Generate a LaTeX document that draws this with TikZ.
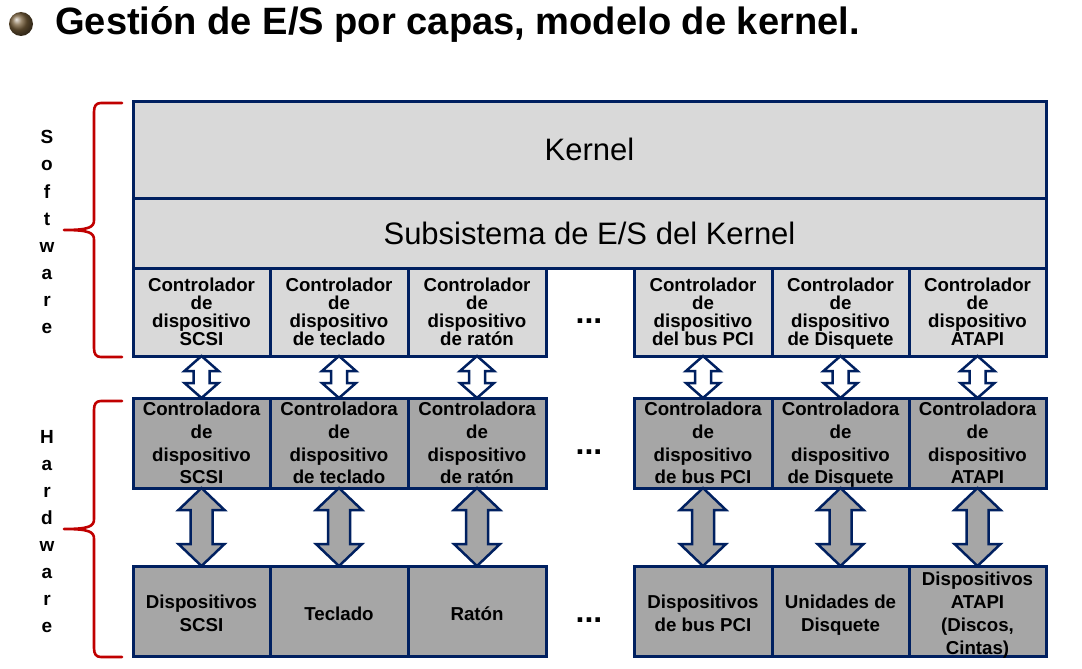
\documentclass[tikz,border=0pt]{standalone}
\usepackage{fontspec}
\setmainfont{Liberation Sans}
\usetikzlibrary{calc}

\definecolor{navy}{RGB}{0,32,96}
\definecolor{bracered}{RGB}{192,0,0}
\definecolor{swgray}{RGB}{217,217,217}
\definecolor{hwgray}{RGB}{166,166,166}
\definecolor{bronze}{RGB}{118,94,58}

% last line set without depth, so descenders do not lift the text block
\newcommand\nodepth[1]{\raisebox{0pt}[\height][0pt]{#1}}
% extra room above the first line of the device cells
\newcommand\devtop{\rule{0pt}{18pt}}

% double-headed block arrow between two stacked nodes
% #1 upper node, #2 lower node, #3 half head width, #4 half shaft width, #5 head length, #6 style
\newcommand\dblarrow[6]{%
  \path[#6] let \p1=(#1.south), \p2=(#2.north) in
    (\x1,\y1) -- (\x1+#3pt,\y1-#5pt) -- (\x1+#4pt,\y1-#5pt)
    -- (\x1+#4pt,\y2+#5pt) -- (\x1+#3pt,\y2+#5pt) -- (\x1,\y2)
    -- (\x1-#3pt,\y2+#5pt) -- (\x1-#4pt,\y2+#5pt)
    -- (\x1-#4pt,\y1-#5pt) -- (\x1-#3pt,\y1-#5pt) -- cycle;
}

\begin{document}
\begin{tikzpicture}[x=1pt,y=-1pt,
  box/.style={draw=navy, line width=3pt, inner sep=0pt, outer sep=0pt, align=center},
  layer/.style={box, fill=swgray, minimum width=913pt, font=\fontsize{31}{33}\selectfont},
  swcell/.style={box, fill=swgray, minimum width=#1, minimum height=88pt,
    font=\bfseries\fontsize{18.7}{18}\selectfont},
  hwcell/.style={box, fill=hwgray, minimum width=#1, minimum height=90pt,
    font=\bfseries\fontsize{18.7}{22.7}\selectfont},
  devcell/.style={box, fill=hwgray, minimum width=#1, minimum height=90pt,
    font=\bfseries\fontsize{18.7}{23}\selectfont},
  gapdots/.style={inner sep=0pt, font=\bfseries\fontsize{32}{32}\selectfont},
  sideletter/.style={anchor=base, inner sep=0pt, font=\bfseries\fontsize{19}{19}\selectfont},
  brace/.style={draw=bracered, line width=2.6pt, line join=round, line cap=round},
  linkarrow/.style={draw=navy, fill=white, line width=2.5pt, line join=miter},
  busarrow/.style={draw=navy, fill=hwgray, line width=2.5pt, line join=miter},
  title/.style={inner sep=0pt, font=\bfseries\fontsize{38.1}{40}\selectfont}
]
\useasboundingbox (0,0) rectangle (1082,669);

% heading
\shade[ball color=bronze] (21,24) circle (12);
\node[title, anchor=base west] (title) at (55,35) {Gestión de E/S por capas, modelo de kernel.};

% software layers
\node[layer, minimum height=97pt] (kern) at (589.5,149.5) {Kernel};
\node[layer, minimum height=70pt] (subs) at (589.5,233) {Subsistema de E/S del Kernel};

% device drivers
\node[swcell=137pt] (sc1) at (201.5,312) {Controlador\\de\\dispositivo\\\nodepth{SCSI}};
\node[swcell=138pt] (sc2) at (339,312) {Controlador\\de\\dispositivo\\\nodepth{de teclado}};
\node[swcell=138pt] (sc3) at (477,312) {Controlador\\de\\dispositivo\\\nodepth{de ratón}};
\node[swcell=138pt] (sc4) at (703,312) {Controlador\\de\\dispositivo\\\nodepth{del bus PCI}};
\node[swcell=137pt] (sc5) at (840.5,312) {Controlador\\de\\dispositivo\\\nodepth{de Disquete}};
\node[swcell=137pt] (sc6) at (977.5,312) {Controlador\\de\\dispositivo\\\nodepth{ATAPI}};

% device controllers
\node[hwcell=137pt] (hc1) at (201.5,443) {Controladora\\de\\dispositivo\\\nodepth{SCSI}};
\node[hwcell=138pt] (hc2) at (339,443) {Controladora\\de\\dispositivo\\\nodepth{de teclado}};
\node[hwcell=138pt] (hc3) at (477,443) {Controladora\\de\\dispositivo\\\nodepth{de ratón}};
\node[hwcell=138pt] (hc4) at (703,443) {Controladora\\de\\dispositivo\\\nodepth{de bus PCI}};
\node[hwcell=137pt] (hc5) at (840.5,443) {Controladora\\de\\dispositivo\\\nodepth{de Disquete}};
\node[hwcell=137pt] (hc6) at (977.5,443) {Controladora\\de\\dispositivo\\\nodepth{ATAPI}};

% devices
\node[devcell=137pt] (dv1) at (201.5,611) {\devtop Dispositivos\\\nodepth{SCSI}};
\node[devcell=138pt] (dv2) at (339,611) {\devtop\nodepth{Teclado}};
\node[devcell=138pt] (dv3) at (477,611) {\devtop\nodepth{Ratón}};
\node[devcell=138pt] (dv4) at (703,611) {\devtop Dispositivos\\\nodepth{de bus PCI}};
\node[devcell=137pt] (dv5) at (840.5,611) {\devtop Unidades de\\\nodepth{Disquete}};
\node[devcell=137pt] (dv6) at (977.5,611) {\devtop Dispositivos\\ATAPI\\(Discos,\\\nodepth{Cintas)}};

% elided columns
\node[gapdots] (gap1) at (589,321) {...};
\node[gapdots] (gap2) at (589,452) {...};
\node[gapdots] (gap3) at (589,620) {...};

% driver <-> controller and controller <-> device links
\foreach \i in {1,...,6} {
  \dblarrow{sc\i}{hc\i}{17}{8}{15}{linkarrow}
  \dblarrow{hc\i}{dv\i}{23}{11}{22}{busarrow}
}

% braces
\draw[brace] (122,103) -- (101,103) .. controls (96,103) and (94,106) .. (94,112)
  -- (94,220) .. controls (94,227) and (90,230) .. (64,230)
  .. controls (90,230) and (94,233) .. (94,240)
  -- (94,348) .. controls (94,354) and (96,357) .. (101,357) -- (122,357);
\draw[brace] (122,401) -- (101,401) .. controls (96,401) and (94,404) .. (94,410)
  -- (94,519) .. controls (94,526) and (90,529) .. (64,529)
  .. controls (90,529) and (94,532) .. (94,539)
  -- (94,648) .. controls (94,654) and (96,657) .. (101,657) -- (122,657);

% vertical side labels
\foreach \l [count=\i] in {S,o,f,t,w,a,r,e}
  \node[sideletter] (sw\i) at (47,{143.8+27.1*(\i-1)}) {\l};
\foreach \l [count=\i] in {H,a,r,d,w,a,r,e}
  \node[sideletter] (hw\i) at (47,{443.8+26.9*(\i-1)}) {\l};
\end{tikzpicture}
\end{document}
